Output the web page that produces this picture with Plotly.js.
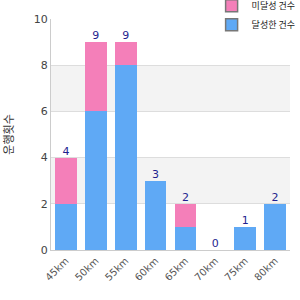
<!DOCTYPE html>
<html><head><meta charset="utf-8">
<script src="https://cdn.plot.ly/plotly-3.0.1.min.js"></script>
<style>body{margin:0}#c{width:300px;height:300px}</style>
</head><body><div id="c"></div>
<script>
const categories = ['45km','50km','55km','60km','65km','70km','75km','80km'];
const blueValues = [2,6,8,3,1,0,1,2];
const pinkValues = [2,3,1,0,1,0,0,0];
const totals = categories.map((c,i)=>blueValues[i]+pinkValues[i]);
const blueName = '달성한 건수';
const pinkName = '미달성 건수';
const yTitle = '운행횟수';
const blue = '#5fa9f5', pink = '#f47fb9';

const traces = [
  {type:'bar', x:categories, y:blueValues, name:blueName, showlegend:false,
   marker:{color:blue}, hoverinfo:'none'},
  {type:'bar', x:categories, y:pinkValues, name:pinkName, showlegend:false,
   marker:{color:pink}, hoverinfo:'none'},
  {type:'scatter', mode:'text', x:categories, y:totals, text:totals.map(String),
   textposition:'top center', textfont:{color:'#1f1f8f', size:11, family:'DejaVu Sans'},
   showlegend:false, hoverinfo:'none', cliponaxis:false},
  {type:'bar', x:[categories[0]], y:[null], name:pinkName, legendrank:1,
   marker:{color:pink, line:{color:'#777', width:1.5}}},
  {type:'bar', x:[categories[0]], y:[null], name:blueName, legendrank:2,
   marker:{color:blue, line:{color:'#777', width:1.5}}}
];
const shapes = [[2,4],[6,8]].map(b=>({type:'rect', xref:'paper', yref:'y', x0:0, x1:1, y0:b[0], y1:b[1],
  fillcolor:'#f3f3f3', line:{width:0}, layer:'below'}));
Plotly.newPlot('c', traces, {
  width:300, height:300,
  margin:{l:51, r:10, t:19, b:50, autoexpand:false},
  barmode:'stack', bargap:0.27,
  paper_bgcolor:'#fff', plot_bgcolor:'rgba(0,0,0,0)',
  font:{family:'DejaVu Sans', size:11, color:'#444'},
  shapes:shapes,
  xaxis:{type:'category', tickangle:-45, tickfont:{size:10, color:'#555'},
    showline:true, linecolor:'#ccc', linewidth:1, ticks:'', showgrid:false, fixedrange:true,
    automargin:false},
  yaxis:{range:[0,10], dtick:2, tickfont:{size:11, color:'#444'}, showline:true, linecolor:'#ccc',
    gridcolor:'#ddd', zeroline:false, ticks:'', fixedrange:true, automargin:false,
    title:{text:yTitle, font:{size:11, color:'#333', family:'Noto Sans CJK KR'}, standoff:32}},
  legend:{x:0.672, xanchor:'left', y:1.12, yanchor:'top', traceorder:'normal',
    bgcolor:'#fff', font:{size:9, color:'#222', family:'Noto Sans CJK KR'}, itemwidth:30,
    tracegroupgap:0},
  showlegend:true
}, {displayModeBar:false, staticPlot:true});
</script></body></html>
